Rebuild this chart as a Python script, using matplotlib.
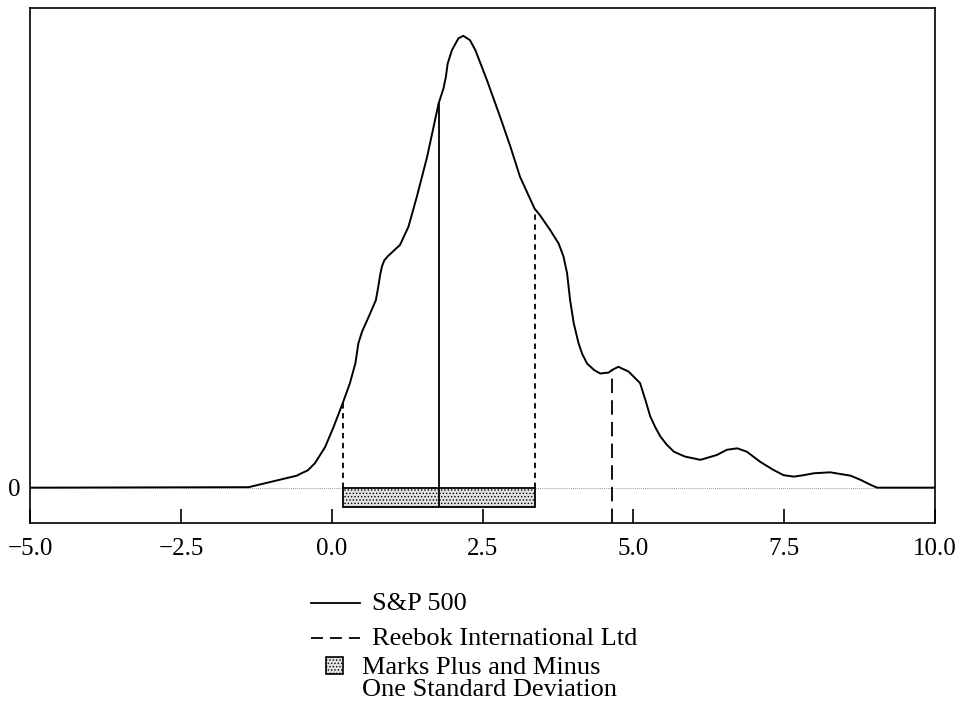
import matplotlib.pyplot as plt
import numpy as np
from matplotlib.lines import Line2D
from matplotlib.patches import Rectangle

plt.rcParams['font.family'] = ['Liberation Serif', 'DejaVu Serif']
plt.rcParams['hatch.color'] = '#a8a8a8'
plt.rcParams['hatch.linewidth'] = 0.6

# return distribution of the S&P 500 (relative density)
ret = [-5.0, -1.38, -0.58, -0.52, -0.40, -0.28, -0.11, 0.03, 0.18, 0.30, 0.39, 0.44,
       0.50, 0.61, 0.73, 0.77, 0.80, 0.83, 0.87, 0.94, 1.13, 1.27, 1.41, 1.58, 1.77,
       1.85, 1.89, 1.92, 1.99, 2.10, 2.18, 2.29, 2.38, 2.57, 2.79, 2.96, 3.12, 3.36,
       3.45, 3.62, 3.76, 3.84, 3.90, 3.95, 4.01, 4.09, 4.15, 4.23, 4.35, 4.45, 4.59,
       4.64, 4.75, 4.92, 5.11, 5.20, 5.28, 5.37, 5.45, 5.55, 5.67, 5.85, 6.11, 6.38,
       6.55, 6.72, 6.88, 7.10, 7.32, 7.49, 7.66, 7.82, 7.99, 8.26, 8.60, 8.77, 8.93,
       9.04, 10.0]
dens = [0.0, 0.001, 0.025, 0.029, 0.036, 0.051, 0.085, 0.127, 0.176, 0.218, 0.259, 0.301,
        0.325, 0.356, 0.391, 0.419, 0.443, 0.461, 0.474, 0.484, 0.506, 0.544, 0.607, 0.690, 0.801,
        0.832, 0.856, 0.884, 0.912, 0.937, 0.942, 0.933, 0.912, 0.850, 0.773, 0.711, 0.648, 0.582,
        0.568, 0.537, 0.509, 0.482, 0.447, 0.391, 0.343, 0.301, 0.279, 0.259, 0.245, 0.238, 0.240,
        0.245, 0.252, 0.242, 0.218, 0.182, 0.148, 0.124, 0.106, 0.090, 0.075, 0.065, 0.058, 0.068,
        0.079, 0.082, 0.075, 0.054, 0.037, 0.026, 0.023, 0.026, 0.030, 0.032, 0.025, 0.016, 0.006,
        0.0, 0.0]

# mean and +/- one standard deviation, Reebok return
sp_mean = 1.77
sp_sd = 1.59
reebok = 4.64

xticks = [-5.0, -2.5, 0.0, 2.5, 5.0, 7.5, 10.0]
xticklabels = ['\u22125.0', '\u22122.5', '0.0', '2.5', '5.0', '7.5', '10.0']

fig = plt.figure(figsize=(9.6, 7.09), dpi=100)
ax = fig.add_axes([0.0315, 0.2628, 0.9425, 0.7259])

ax.axhline(0, color='0.6', lw=0.7, ls=(0, (1, 1)), zorder=1)
ax.plot(ret, dens, color='black', lw=1.4, zorder=3, solid_joinstyle='round')

def height_at(x):
    return np.interp(x, ret, dens)

box_h = 0.041
lo, hi = sp_mean - sp_sd, sp_mean + sp_sd
ax.add_patch(Rectangle((lo, -box_h), hi - lo, box_h, facecolor='#e2e2e2',
                       edgecolor='black', lw=1.3, hatch='.....', zorder=2))
ax.vlines(sp_mean, -box_h, height_at(sp_mean), color='black', lw=1.3, zorder=3)
ax.vlines([lo, hi], 0, [height_at(lo), height_at(hi)], color='black', lw=1.3,
          linestyles=[(0, (3, 2.5))], zorder=3)
ax.vlines(reebok, -0.073, height_at(reebok), color='black', lw=1.3,
          linestyles=[(0, (8, 4))], zorder=3)

ax.set_xlim(-5, 10)
ax.set_ylim(-0.073, 1.0)
ax.set_xticks(xticks)
ax.set_xticklabels(xticklabels, fontsize=18)
ax.tick_params(axis='x', direction='in', length=10, width=1.2, pad=11)
ax.set_yticks([0])
ax.set_yticklabels(['0'], fontsize=18)
ax.tick_params(axis='y', length=0, pad=7)
for s in ax.spines.values():
    s.set_linewidth(1.2)

# legend drawn underneath the plot
W, H = 960, 709
def fx(p):
    return p / W
def fy(p):
    return 1 - p / H

fig.add_artist(Line2D([fx(311), fx(360)], [fy(603), fy(603)], color='black', lw=1.3))
fig.add_artist(Line2D([fx(311), fx(360)], [fy(638), fy(638)], color='black', lw=1.3,
                      ls=(0, (6.6, 3.9))))
fig.add_artist(Rectangle((fx(326), fy(674)), fx(17), 17 / H, facecolor='#e2e2e2',
                         edgecolor='black', lw=1.2, hatch='.....'))
fig.text(fx(372), fy(604), 'S&P 500', fontsize=19, va='center')
fig.text(fx(372), fy(639), 'Reebok International Ltd', fontsize=19, va='center')
fig.text(fx(362), fy(679), 'Marks Plus and Minus\nOne Standard Deviation',
         fontsize=19, va='center', linespacing=0.95)

fig.savefig('out.png', dpi=100)
